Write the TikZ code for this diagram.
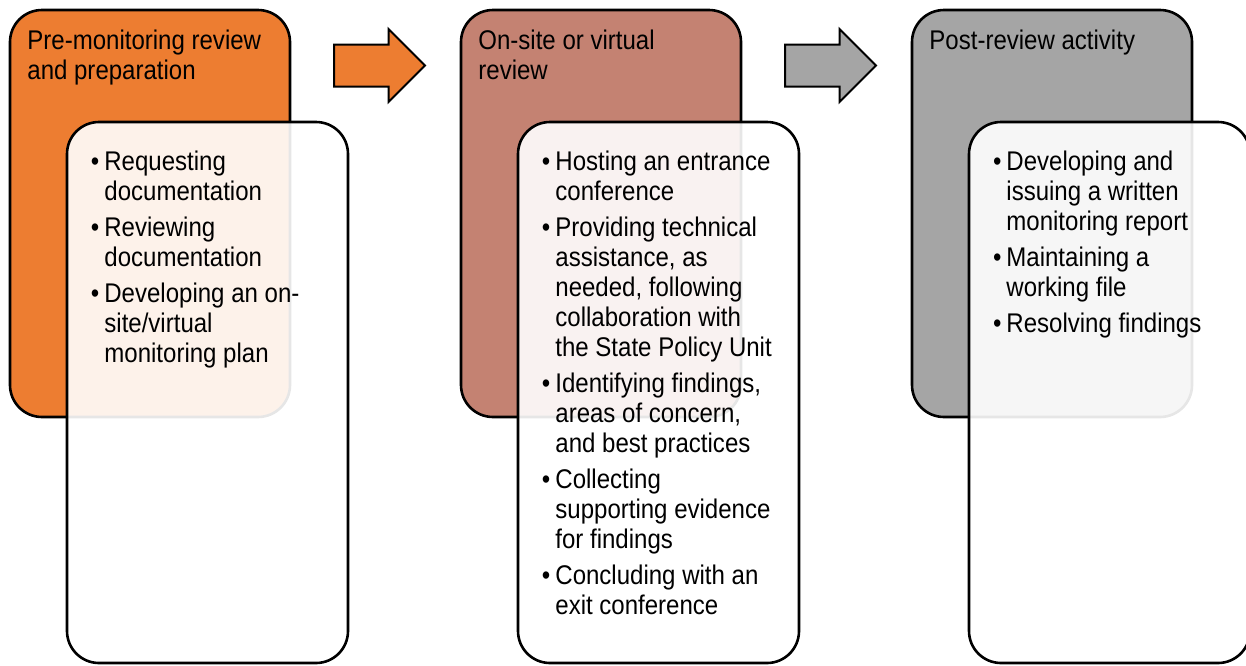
\documentclass[tikz,border=0pt]{standalone}
\usepackage{fontspec}
\setmainfont{Liberation Sans}[FakeStretch=0.89]
\usetikzlibrary{shapes.arrows}

\definecolor{stageorange}{RGB}{237,125,49}
\definecolor{stagerose}{RGB}{196,130,114}
\definecolor{stagegray}{RGB}{165,165,165}

\newcommand{\bul}{\llap{\textbullet\hspace{2.5pt}}}

\begin{document}
\begin{tikzpicture}[x=0.5pt,y=-0.5pt,
  stagebox/.style={draw,line width=1.3pt,rounded corners=16pt,minimum width=140pt,minimum height=203.5pt,inner sep=0pt},
  listbox/.style={draw,line width=1.3pt,rounded corners=16pt,fill=white,fill opacity=0.9,minimum width=140.5pt,minimum height=270.5pt,inner sep=0pt},
  stagetitle/.style={anchor=north west,inner sep=0pt,align=left,font=\fontsize{13.5}{15}\selectfont},
  stagelist/.style={stagetitle},
  flowarrow/.style={single arrow,draw,line width=1pt,minimum height=45.5pt,minimum width=35.5pt,single arrow head extend=7.75pt,inner xsep=0pt,inner ysep=10pt,anchor=tail}]
\useasboundingbox (0,0) rectangle (1246,665);
\clip (0,0) rectangle (1246,665);

% pre-monitoring
\node[stagebox,fill=stageorange] (pre) at (150,213.5) {};
\node[listbox] (prelist) at (207.5,392.5) {};
\node[stagetitle] (pretitle) at (27,30) {Pre-monitoring review\\and preparation};
\node[stagelist] (preitems) at (104,151) {\bul Requesting\\documentation\\[3pt]\bul Reviewing\\documentation\\[3pt]\bul Developing an on-\\site/virtual\\monitoring plan};

\node[flowarrow,fill=stageorange] (arrowA) at (333,65.5) {};

% on-site or virtual
\node[stagebox,fill=stagerose] (onsite) at (601,213.5) {};
\node[listbox] (onsitelist) at (658.5,392.5) {};
\node[stagetitle] (onsitetitle) at (478,30) {On-site or virtual\\review};
\node[stagelist] (onsiteitems) at (555,151) {\bul Hosting an entrance\\conference\\[3pt]\bul Providing technical\\assistance, as\\needed, following\\collaboration with\\the State Policy Unit\\[3pt]\bul Identifying findings,\\areas of concern,\\and best practices\\[3pt]\bul Collecting\\supporting evidence\\for findings\\[3pt]\bul Concluding with an\\exit conference};

\node[flowarrow,fill=stagegray] (arrowB) at (784,65.5) {};

% post-review
\node[stagebox,fill=stagegray] (post) at (1052,213.5) {};
\node[listbox] (postlist) at (1109.5,392.5) {};
\node[stagetitle] (posttitle) at (929,30) {Post-review activity};
\node[stagelist] (postitems) at (1006,151) {\bul Developing and\\issuing a written\\monitoring report\\[3pt]\bul Maintaining a\\working file\\[3pt]\bul Resolving findings};
\end{tikzpicture}
\end{document}
